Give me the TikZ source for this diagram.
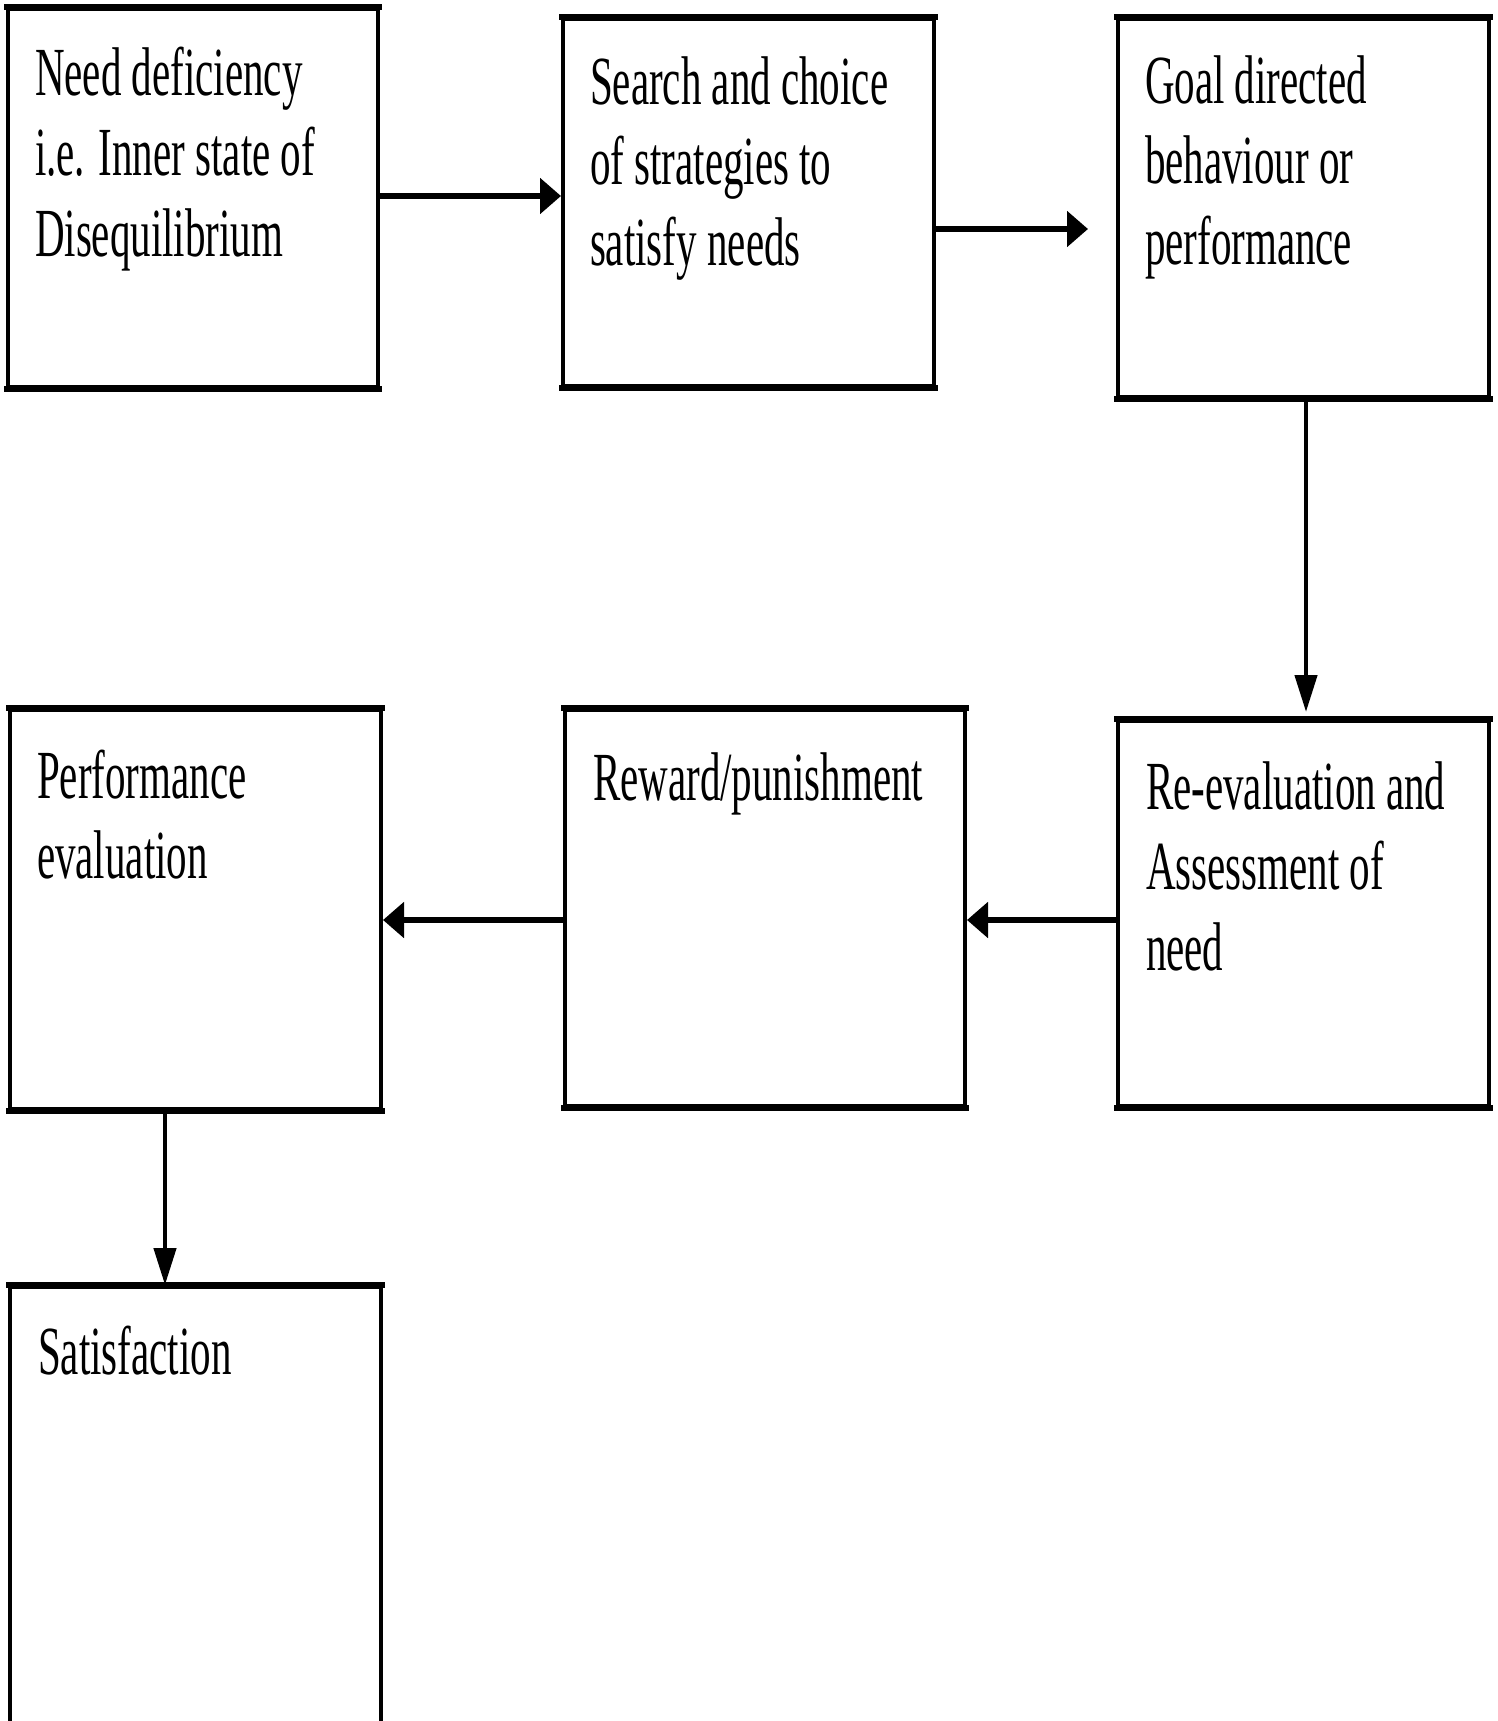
\documentclass[tikz,border=0pt]{standalone}
\usepackage{graphicx}
\usepackage{fontspec}
\setmainfont{Liberation Serif}
\usetikzlibrary{arrows.meta}
\newcommand{\lbl}[1]{\scalebox{1}[1.68]{\fontsize{41}{48}\selectfont\begin{tabular}[t]{@{}l@{}}#1\end{tabular}}}
\tikzset{
  boxnode/.style={draw=black, line width=4pt, rectangle, inner sep=0pt, fill=none},
  hedge/.style={line width=6.5pt, line cap=butt, shorten <=-2pt, shorten >=-2pt},
  txt/.style={anchor=base west, inner sep=0pt, outer sep=0pt},
  harr/.style={line width=6.5pt, -{Triangle[length=21pt,width=35pt]}},
  varr/.style={line width=4.5pt, -{Triangle[length=37pt,width=22pt]}}
}
\begin{document}
\begin{tikzpicture}[x=1pt,y=-1pt]
\clip (0,0) rectangle (1498,1721);
\fill[white] (0,0) rectangle (1498,1721);
% boxes
\node[boxnode, minimum width=370pt, minimum height=378pt] (b1) at (193,198) {};
\node[boxnode, minimum width=371pt, minimum height=367pt] (b2) at (748.5,202.5) {};
\node[boxnode, minimum width=371pt, minimum height=378pt] (b3) at (1303.5,208) {};
\node[boxnode, minimum width=371pt, minimum height=385pt] (b4) at (1303.5,913.5) {};
\node[boxnode, minimum width=400pt, minimum height=396pt] (b5) at (765,908) {};
\node[boxnode, minimum width=371pt, minimum height=399pt] (b6) at (195.5,909.5) {};
\node[boxnode, minimum width=371pt, minimum height=463pt] (b7) at (195.5,1518.5) {};
% thicker horizontal edges
\foreach \b in {b1,b2,b3,b4,b5,b6,b7}{
  \draw[hedge] (\b.north west) -- (\b.north east);
  \draw[hedge] (\b.south west) -- (\b.south east);
}
% texts
\node[txt] (t1) at (35,95) {\lbl{Need deficiency\\i.e. Inner state of\\Disequilibrium}};
\node[txt] (t2) at (590,104) {\lbl{Search and choice\\of strategies to\\satisfy needs}};
\node[txt] (t3) at (1145,103) {\lbl{Goal directed\\behaviour or\\performance}};
\node[txt] (t4) at (1146,809) {\lbl{Re-evaluation and\\Assessment of\\need}};
\node[txt] (t5) at (593,800) {\lbl{Reward/punishment}};
\node[txt] (t6) at (37,798) {\lbl{Performance\\evaluation}};
\node[txt] (t7) at (38,1374) {\lbl{Satisfaction}};
% connectors
\coordinate (a2end) at (1088,229);
\coordinate (a3end) at (1306,712);
\draw[harr] (b1.east |- 0,196) -- (b2.west |- 0,196);
\draw[harr] (b2.east |- 0,229) -- (a2end);
\draw[varr] (b3.south -| 1306,0) -- (a3end);
\draw[harr] (b4.west |- 0,920) -- (b5.east |- 0,920);
\draw[harr] (b5.west |- 0,920) -- (b6.east |- 0,920);
\draw[varr] (b6.south -| 165,0) -- (b7.north -| 165,0);
\end{tikzpicture}
\end{document}
